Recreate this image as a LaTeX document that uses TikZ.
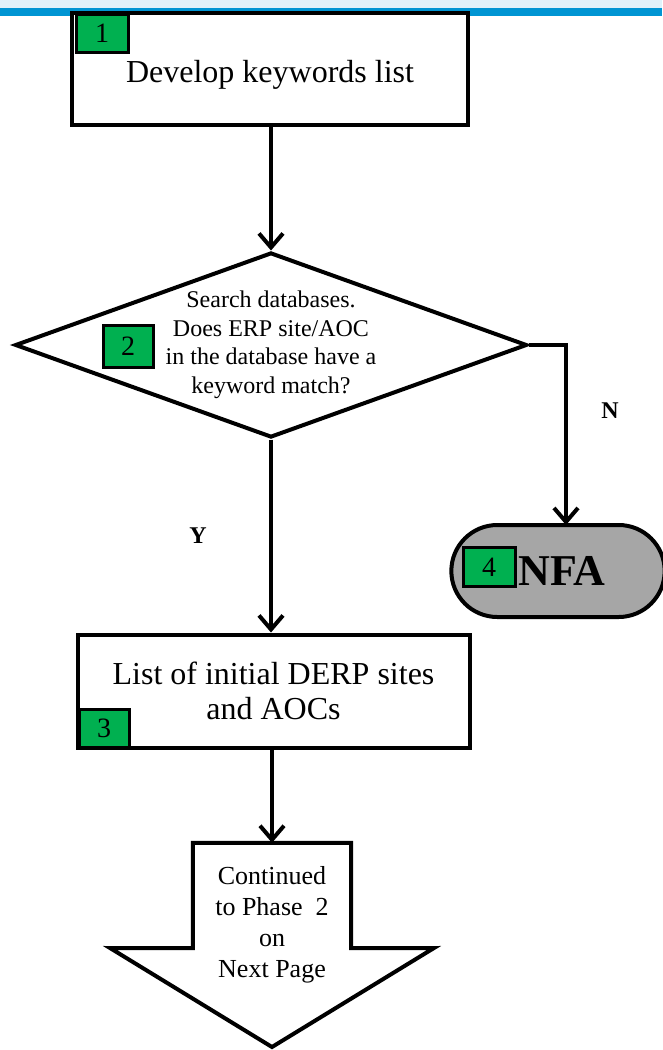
\documentclass[tikz,border=0pt]{standalone}
\usepackage{fontspec}
\setmainfont{Liberation Serif}
\usetikzlibrary{shapes.geometric, shapes.misc, arrows.meta}
\definecolor{stepgreen}{HTML}{00B050}
\definecolor{nfagray}{HTML}{A6A6A6}
\definecolor{headblue}{HTML}{0095D3}

\begin{document}
\begin{tikzpicture}[x=1pt, y=-1pt]
\tikzstyle{stepbox}=[rectangle, draw, line width=4pt, fill=white, minimum width=396pt, minimum height=112pt, font=\fontsize{32}{35}\selectfont, align=center];
\tikzstyle{decision}=[diamond, draw, line width=4pt, fill=white, minimum width=512pt, minimum height=185pt, inner sep=0pt];
\tikzstyle{terminal}=[rounded rectangle, draw, line width=4pt, fill=nfagray, minimum width=220pt, minimum height=92pt];
\tikzstyle{badge}=[rectangle, draw, line width=3pt, fill=stepgreen, minimum width=52pt, minimum height=39pt, inner sep=0pt, font=\fontsize{28}{30}\selectfont];
\tikzstyle{yesno}=[font=\bfseries\fontsize{24}{26}\selectfont];
\tikzstyle{arrow}=[-{Straight Barb[length=14pt, width=24pt, line width=4pt]}, line width=3.5pt];

\useasboundingbox (0,0) rectangle (662,1050);

% header band
\fill[headblue!12] (0,0) rectangle (662,8);
\fill[headblue] (0,8) rectangle (662,16);

\node [stepbox, text height=34pt] at (270,68.5) (Keywords) {Develop keywords list};
\node [badge, minimum height=38pt] at (102,33) (Badge1) {1};

\node [decision] at (271,345) (Search) {};
\node [font=\fontsize{24}{28.5}\selectfont, align=center] at (271,345) (SearchText) {Search databases.\\Does ERP site/AOC\\in the database have a\\keyword match?};
\node [badge, minimum width=50pt, minimum height=42pt] at (128,346) (Badge2) {2};

\node [terminal] at (558,571) (NFA) {};
\node [badge] at (489,567) (Badge4) {4};
\node [font=\bfseries\fontsize{44}{46}\selectfont] at (562,571) (NFAText) {NFA};
\coordinate (NFAtop) at (566,525);

\node [yesno] at (610,411) (No) {N};
\node [yesno] at (198,536) (Yes) {Y};

\node [stepbox, minimum width=392pt, minimum height=113pt] at (273.5,691) (List) {List of initial DERP sites\\and AOCs};
\node [badge, minimum width=50pt, minimum height=38pt] at (104,728) (Badge3) {3};

% continuation arrow
\node [minimum width=158pt, minimum height=105pt, inner sep=0pt] at (272,895.5) (Shaft) {};
\coordinate (Tip) at (272,1047);
\draw [line width=4pt, fill=white] (Shaft.north west) -- (Shaft.south west) -- (110,948) -- (Tip) -- (434,948) -- (Shaft.south east) -- (Shaft.north east) -- cycle;
\node [font=\fontsize{26}{31}\selectfont, align=center] at (272,925) (NextPage) {Continued\\to Phase\ \ 2\\on\\Next Page};

\draw[arrow] (Keywords.south -| Search.north) -- (Search.north);
\draw[arrow] (Search.east) -| (NFAtop);
\draw[arrow] (Search.south) -- (Search.south |- List.north);
\draw[arrow] (List.south -| Shaft.north) -- (Shaft.north);

\end{tikzpicture}
\end{document}
